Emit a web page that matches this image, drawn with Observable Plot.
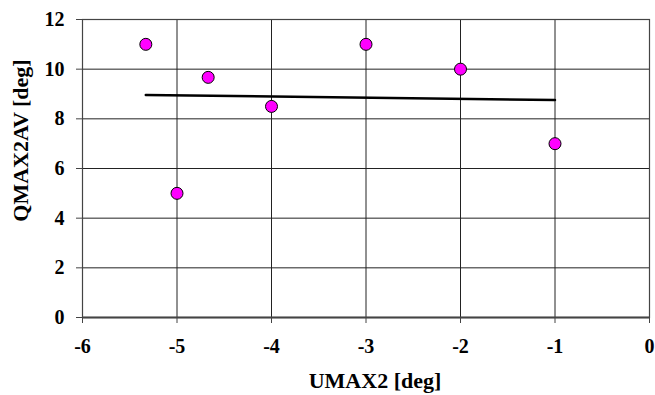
<!DOCTYPE html>
<html>
<head>
<meta charset="utf-8">
<script src="https://cdn.jsdelivr.net/npm/d3@7"></script>
<script src="https://cdn.jsdelivr.net/npm/@observablehq/plot@0.6"></script>
<style>
  html, body { margin: 0; padding: 0; background: #fff; }
</style>
</head>
<body>
<div id="chart"></div>
<script>
const umax2 = [-5.33, -5, -4.67, -4, -3, -2, -1];
const qmax2av = [11, 5, 9.67, 8.5, 11, 10, 7];
const xTicks = [-6, -5, -4, -3, -2, -1, 0];
const yTicks = [0, 2, 4, 6, 8, 10, 12];
const xTitle = "UMAX2 [deg]";
const yTitle = "QMAX2AV [deg]";

const data = umax2.map((x, i) => ({x, y: qmax2av[i]}));
const serif = "Liberation Serif, Times New Roman, serif";

const chart = Plot.plot({
  width: 655,
  height: 395,
  marginLeft: 82,
  marginRight: 6,
  marginTop: 19,
  marginBottom: 78,
  style: {background: "#fff"},
  x: {domain: [-6, 0]},
  y: {domain: [0, 12]},
  marks: [
    Plot.ruleX(xTicks, {stroke: "#222", strokeWidth: 1}),
    Plot.ruleY(yTicks, {stroke: "#222", strokeWidth: 1}),
    Plot.frame({stroke: "#444", strokeWidth: 1.2}),
    Plot.ruleY([0], {stroke: "#444", strokeWidth: 2}),
    Plot.linearRegressionY(data, {x: "x", y: "y", stroke: "#000", strokeWidth: 2.5, ci: 0}),
    Plot.dot(data, {x: "x", y: "y", r: 6, fill: "#ff00ff", stroke: "#000", strokeWidth: 1}),
    Plot.axisX({ticks: xTicks, tickSize: 6, tickPadding: 15, tickFormat: d => String(d).replace("−", "-"), stroke: "#444",
      fontFamily: serif, fontSize: 20, fontWeight: "bold", fill: "#000", label: null}),
    Plot.axisY({ticks: yTicks, tickSize: 6, tickPadding: 12, stroke: "#444",
      fontFamily: serif, fontSize: 20, fontWeight: "bold", fill: "#000", label: null}),
    Plot.text([xTitle], {frameAnchor: "bottom", lineAnchor: "middle", textAnchor: "middle", dy: 63, dx: 9, text: d => d, fontFamily: serif, fontSize: 22, fontWeight: "bold", fill: "#000"}),
    Plot.text([yTitle], {frameAnchor: "left", lineAnchor: "middle", textAnchor: "middle", dx: -62, dy: -28, rotate: -90, text: d => d, fontFamily: serif, fontSize: 22, fontWeight: "bold", fill: "#000"})
  ]
});
document.getElementById("chart").appendChild(chart);
</script>
</body>
</html>
